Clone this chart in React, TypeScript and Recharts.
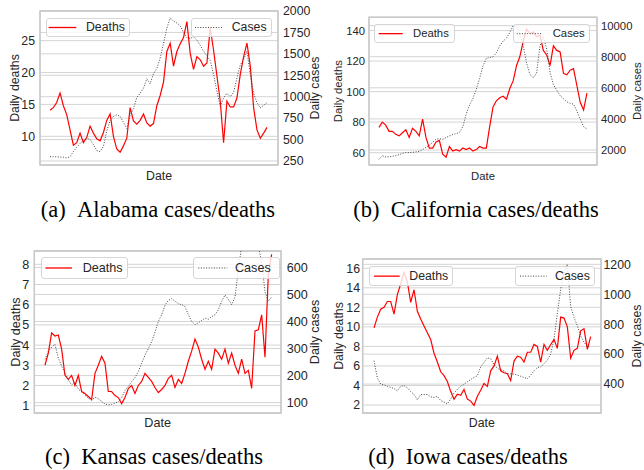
import React from 'react';
import { ComposedChart, Line, XAxis, YAxis, CartesianGrid, ReferenceArea } from 'recharts';

// (a) Alabama, one sample every 3 days
const alabamaDeaths = [
  14.1, 14.5, 15.3, 16.8, 14.8, 13.4, 11.0, 8.6, 9.0, 10.5,
  9.0, 9.8, 11.6, 10.5, 9.6, 9.3, 10.6, 12.5, 13.5, 10.0,
  8.0, 7.5, 8.5, 9.7, 14.5, 12.4, 11.9, 12.5, 13.5, 12.1,
  11.6, 12.0, 14.8, 16.4, 18.5, 23.3, 24.6, 21.0, 23.3, 24.5,
  25.5, 28.0, 23.0, 20.5, 22.5, 22.0, 21.0, 21.5, 27.0, 23.5,
  19.5, 15.5, 9.0, 15.5, 14.6, 14.6, 16.0, 19.7, 22.5, 24.6,
  21.0, 14.5, 11.0, 9.7, 10.5, 11.4,
];
const alabamaCases = [
  300, 300, 298, 296, 294, 285, 300, 360, 410, 455,
  490, 520, 500, 440, 370, 360, 420, 600, 720, 770,
  790, 770, 700, 630, 780, 860, 990, 1040, 1100, 1210,
  1150, 1270, 1330, 1450, 1620, 1800, 1920, 1880, 1860, 1830,
  1750, 1690, 1680, 1700, 1660, 1600, 1530, 1480, 1420, 1260,
  1060, 890, 985, 1040, 1000, 1050, 1220, 1370, 1430, 1530,
  1260, 1040, 930, 870, 900, 930,
];
const alabamaDeathTicks = [10, 15, 20, 25];
const alabamaCaseTicks = [250, 500, 750, 1000, 1250, 1500, 1750, 2000];
const alabamaMonths = [3.6, 13.6, 23.6, 33.6, 43.6, 53.6, 63.6];

// (b) California
const californiaDeaths = [
  76.6, 80, 78, 74, 74, 72, 71, 73, 75, 70,
  76, 74, 71, 82, 70, 63, 63, 67, 68, 59,
  57, 64, 61, 62, 61, 63, 62, 63, 61, 62,
  64, 63, 63, 77, 90, 94, 96, 97, 95, 102,
  107, 117, 123, 133, 141, 138, 139, 136, 137, 127,
  124, 117, 130, 127, 126, 112, 111, 114, 115, 104,
  93, 88, 99,
];
const californiaCases = [
  1400, 1630, 1550, 1560, 1600, 1640, 1700, 1780, 1840, 1830,
  1850, 1880, 1910, 2030, 2170, 2300, 2490, 2700, 2720, 2680,
  2800, 2900, 2990, 3050, 3140, 3500, 4300, 4900, 5300, 5900,
  6600, 7400, 7900, 7950, 8000, 8250, 8700, 9000, 9200, 9550,
  10000, 9950, 9450, 8700, 7600, 6850, 6650, 6950, 8700, 9300,
  8500, 7000, 6200, 5850, 5500, 5300, 5100, 5000, 4950, 4500,
  4000, 3500, 3350,
];
const californiaDeathTicks = [60, 80, 100, 120, 140];
const californiaCaseTicks = [2000, 4000, 6000, 8000, 10000];
const californiaMonths = [2.98, 11.43, 19.88, 28.33, 36.78, 45.23, 53.68, 62.13];

// (c) Kansas
const kansasDeaths = [
  3.0, 3.6, 4.6, 4.45, 4.5, 3.8, 2.5, 2.3, 2.5, 2.0,
  2.5, 1.7, 1.6, 1.45, 1.3, 2.6, 3.0, 3.45, 3.1, 1.7,
  1.7, 1.5, 1.4, 1.1, 1.4, 1.85, 2.0, 1.6, 2.0, 2.2,
  2.6, 2.4, 2.2, 1.9, 1.65, 1.8, 2.0, 2.35, 2.5, 1.9,
  2.3, 2.1, 2.6, 3.2, 3.7, 4.3, 3.9, 3.3, 2.8, 3.2,
  2.8, 3.8, 3.6, 3.3, 3.8, 3.1, 3.6, 3.0, 2.6, 3.3,
  2.6, 2.75, 1.86, 4.7, 4.76, 5.5, 3.4, 7.5, 8.5,
];
const kansasCases = [
  260, 290, 305, 315, 265, 235, 210, 185, 165, 175,
  150, 140, 128, 116, 110, 120, 115, 104, 95, 92,
  94, 98, 104, 118, 145, 160, 178, 192, 215, 245,
  275, 300, 325, 360, 400, 425, 460, 478, 484, 475,
  466, 462, 455, 425, 400, 388, 395, 404, 412, 408,
  418, 425, 443, 474, 498, 482, 462, 490, 590, 680,
  700, 690, 720, 700, 680, 620, 510, 475, 490,
];
const kansasDeathTicks = [1, 2, 3, 4, 5, 6, 7, 8];
const kansasCaseTicks = [100, 200, 300, 400, 500, 600];
const kansasMonths = [3.8, 13.8, 23.8, 33.8, 43.8, 53.8, 63.8];

// (d) Iowa
const iowaDeaths = [
  9.9, 11.0, 11.8, 12.0, 12.6, 12.6, 11.3, 13.3, 14.4, 15.6,
  14.6, 12.5, 13.8, 11.6, 10.8, 10.1, 9.4, 8.7, 7.3, 6.4,
  5.4, 5.0, 4.4, 3.4, 2.6, 3.1, 3.0, 3.6, 2.6, 2.4,
  1.95, 2.9, 3.5, 4.2, 3.9, 5.5, 6.0, 7.0, 5.5, 5.3,
  5.2, 4.5, 6.5, 7.0, 6.9, 6.4, 7.4, 7.4, 8.2, 8.0,
  6.4, 8.2, 7.6, 8.2, 8.7, 7.8, 11.0, 10.9, 10.0, 6.8,
  7.6, 7.8, 9.6, 9.8, 7.7, 9.0,
];
const iowaCases = [
  556, 440, 400, 395, 385, 378, 370, 355, 385, 390,
  375, 350, 330, 295, 330, 330, 330, 315, 310, 318,
  290, 280, 268, 300, 340, 365, 385, 400, 415, 430,
  445, 455, 515, 545, 575, 570, 530, 505, 495, 489,
  470, 468, 467, 460, 452, 444, 436, 460, 489, 511,
  515, 535, 560, 600, 700, 870, 1033, 1144, 1200, 920,
  845, 790, 722, 680, 650, 655,
];
const iowaDeathTicks = [2, 4, 6, 8, 10, 12, 14, 16];
const iowaCaseTicks = [400, 600, 800, 1000, 1200];
const iowaMonths = [3.5, 13.5, 23.5, 33.5, 43.5, 53.5, 63.5];

const panels = [
  {
    id: 'a', title: '(a)\u2002Alabama cases/deaths',
    deaths: alabamaDeaths, cases: alabamaCases,
    deathTicks: alabamaDeathTicks, caseTicks: alabamaCaseTicks, months: alabamaMonths,
    left: 0, top: 0, width: 326, height: 185, marginTop: 11, marginRight: 6, leftW: 40, rightW: 42,
    xDomain: [-3.0, 68.3], deathDomain: [5.5, 29.65], caseDomain: [203, 2000],
    font: 12.3, gapL: 5, gapR: 5, deathLabel: 15, caseLabel: 5.5, dateOffset: 5.5,
    boxD: { x: 45.7, y: 18.3, w: 84.3, h: 19, l1: 2.6, l2: 30.3, t: 40.3 },
    boxC: { x: 191, y: 18.3, w: 80.7, h: 19, l1: 4, l2: 31, t: 40.7 },
    capX: 158, capY: 210,
  },
  {
    id: 'b', title: '(b)\u2002California cases/deaths',
    deaths: californiaDeaths, cases: californiaCases,
    deathTicks: californiaDeathTicks, caseTicks: californiaCaseTicks, months: californiaMonths,
    left: 320, top: 0, width: 324, height: 185, marginTop: 17.3, marginRight: 0, leftW: 49, rightW: 47,
    xDomain: [-2.98, 65.0], deathDomain: [51.9, 148.7], caseDomain: [1034, 10536],
    font: 11.3, gapL: 4, gapR: 4, deathLabel: 18, caseLabel: 7.5, dateOffset: 5.5,
    boxD: { x: 374.3, y: 24, w: 80.7, h: 19.3, l1: 4.7, l2: 28.7, t: 38.7 },
    boxC: { x: 513.3, y: 24, w: 76.7, h: 19.3, l1: 3.7, l2: 29.7, t: 39.4 },
    capX: 476, capY: 210,
  },
  {
    id: 'c', title: '(c)\u2002Kansas cases/deaths',
    deaths: kansasDeaths, cases: kansasCases,
    deathTicks: kansasDeathTicks, caseTicks: kansasCaseTicks, months: kansasMonths,
    left: 0, top: 240, width: 326, height: 193, marginTop: 11, marginRight: 6, leftW: 34.3, rightW: 39,
    xDomain: [-3.2, 70.8], deathDomain: [0.636, 8.66], caseDomain: [61.7, 660.5],
    font: 12.6, gapL: 5, gapR: 5.7, deathLabel: 16, caseLabel: 5.5, dateOffset: 6,
    boxD: { x: 40.7, y: 257.3, w: 87.6, h: 22, l1: 4.3, l2: 31, t: 42 },
    boxC: { x: 192.7, y: 257.3, w: 87.3, h: 22, l1: 5.3, l2: 34.3, t: 42.3 },
    capX: 154, capY: 457,
  },
  {
    id: 'd', title: '(d)\u2002Iowa cases/deaths',
    deaths: iowaDeaths, cases: iowaCases,
    deathTicks: iowaDeathTicks, caseTicks: iowaCaseTicks, months: iowaMonths,
    left: 320, top: 240, width: 324, height: 193, marginTop: 19, marginRight: 0, leftW: 42.7, rightW: 43,
    xDomain: [-3.4, 68.1], deathDomain: [1.18, 16.95], caseDomain: [206.7, 1235.6],
    font: 12.3, gapL: 2.7, gapR: 2.5, deathLabel: 18.3, caseLabel: 7.5, dateOffset: 6,
    boxD: { x: 369.3, y: 265.7, w: 84, h: 20.3, l1: 5, l2: 30.7, t: 40 },
    boxC: { x: 515, y: 265.7, w: 80, h: 20.3, l1: 5, l2: 31.7, t: 40 },
    capX: 468, capY: 457,
  },
];

const TEXT = '#262626';
const GRID = '#d4d4d4';

const LegendBox = ({ box, label, dotted, font }: any) => (
  <div
    style={{
      position: 'absolute', left: box.x, top: box.y, width: box.w, height: box.h,
      boxSizing: 'border-box', border: '1px solid #d6d6d6', borderRadius: 3,
      background: 'rgba(255,255,255,0.8)',
    }}
  >
    <svg width={box.w} height={box.h} style={{ position: 'absolute', left: -1, top: -1 }}>
      {dotted ? (
        <line x1={box.l1} x2={box.l2} y1={box.h / 2} y2={box.h / 2} stroke="#444" strokeWidth={1} strokeDasharray="1 1.6" />
      ) : (
        <line x1={box.l1} x2={box.l2} y1={box.h / 2} y2={box.h / 2} stroke="#ff0000" strokeWidth={1.3} />
      )}
    </svg>
    <span style={{ position: 'absolute', left: box.t - 1, top: -1, lineHeight: `${box.h}px`, fontSize: font, color: TEXT }}>
      {label}
    </span>
  </div>
);

const Panel = ({ p }: any) => {
  const rows = p.deaths.map((d: number, i: number) => ({ day: i, deaths: d, cases: p.cases[i] }));
  return (
    <>
      <div style={{ position: 'absolute', left: p.left, top: p.top }}>
        <ComposedChart
          width={p.width} height={p.height} data={rows}
          margin={{ top: p.marginTop, right: p.marginRight, bottom: 0, left: 0 }}
        >
          <CartesianGrid yAxisId="deaths" stroke={GRID} strokeWidth={1} />
          <CartesianGrid yAxisId="cases" vertical={false} stroke={GRID} strokeWidth={1} />
          <XAxis
            dataKey="day" type="number" domain={p.xDomain} ticks={p.months} allowDataOverflow
            tick={false} tickLine={false} axisLine={false} height={20}
            label={{ value: 'Date', position: 'insideBottom', offset: p.dateOffset, fill: TEXT, fontSize: p.font }}
          />
          <YAxis
            yAxisId="deaths" orientation="left" width={p.leftW} domain={p.deathDomain} ticks={p.deathTicks}
            interval={0} allowDataOverflow tickLine={false} axisLine={false} tickSize={p.gapL - 2} tickMargin={2}
            tick={{ fill: TEXT, fontSize: p.font }}
            label={{ value: 'Daily deaths', angle: -90, position: 'insideLeft', offset: p.deathLabel, fill: TEXT, fontSize: p.font, style: { textAnchor: 'middle' } }}
          />
          <YAxis
            yAxisId="cases" orientation="right" width={p.rightW} domain={p.caseDomain} ticks={p.caseTicks}
            interval={0} allowDataOverflow tickLine={false} axisLine={false} tickSize={p.gapR - 2} tickMargin={2}
            tick={{ fill: TEXT, fontSize: p.font }}
            label={{ value: 'Daily cases', angle: -90, position: 'insideRight', offset: p.caseLabel, fill: TEXT, fontSize: p.font, style: { textAnchor: 'middle' } }}
          />
          <ReferenceArea
            yAxisId="deaths" x1={p.xDomain[0]} x2={p.xDomain[1]} y1={p.deathDomain[0]} y2={p.deathDomain[1]}
            fill="none" stroke="#c8c8c8" strokeWidth={1.5} ifOverflow="visible"
          />
          <Line yAxisId="deaths" dataKey="deaths" type="linear" stroke="#ff0000" strokeWidth={1.2} dot={false} isAnimationActive={false} />
          <Line yAxisId="cases" dataKey="cases" type="linear" stroke="#444" strokeWidth={1} strokeDasharray="1 1.6" dot={false} isAnimationActive={false} />
        </ComposedChart>
      </div>
      <LegendBox box={p.boxD} label="Deaths" font={p.font} />
      <LegendBox box={p.boxC} label="Cases" dotted font={p.font} />
      <div
        style={{
          position: 'absolute', left: p.capX - 160, top: p.capY - 13, width: 320, height: 26,
          textAlign: 'center', lineHeight: '26px', fontSize: 22.5, color: '#000',
          fontFamily: '"Liberation Serif", "Times New Roman", serif', whiteSpace: 'pre',
        }}
      >
        {p.title}
      </div>
    </>
  );
};

export default function App() {
  return (
    <div
      style={{
        position: 'absolute', left: 0, top: 0, width: 644, height: 470, background: '#fff',
        fontFamily: '"Liberation Sans", Arial, sans-serif', overflow: 'hidden',
      }}
    >
      {panels.map((p) => (
        <Panel key={p.id} p={p} />
      ))}
    </div>
  );
}
